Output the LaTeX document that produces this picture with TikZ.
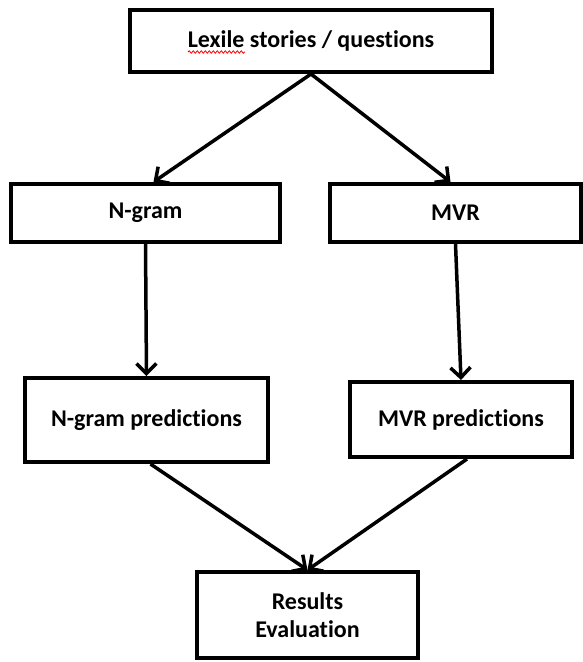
\documentclass[tikz,border=0pt]{standalone}
\usepackage{fontspec}
\setmainfont[RawFeature={-liga;-clig;-calt;-dlig}]{Carlito}
\usetikzlibrary{arrows.meta,calc,decorations.pathmorphing}
\tikzset{
  box/.style={draw=black, fill=white, line width=4pt, align=center,
              inner sep=0pt, font=\fontsize{24}{28}\selectfont\bfseries},
  arrow/.style={-{Straight Barb[length=10pt,width=20pt]}, line width=3.5pt, draw=black},
  squiggle/.style={draw=red, line width=0.8pt, decorate,
                   decoration={snake, amplitude=1.2pt, segment length=4pt}}
}
\begin{document}
\begin{tikzpicture}[x=1pt,y=-1pt]
  \useasboundingbox (0,0) rectangle (582,662);
  % boxes
  \node[box, minimum width=362pt, minimum height=62pt] (lexile) at (311,41) {Lexile stories / questions};
  \node[box, minimum width=269pt, minimum height=58pt] (ngram) at (145.5,213) {N-gram};
  \node[box, minimum width=251pt, minimum height=58pt] (mvr) at (455.5,213) {MVR};
  \node[box, minimum width=243pt, minimum height=84pt] (ngrampred) at (146.5,420) {N-gram predictions};
  \node[box, minimum width=222pt, minimum height=75pt] (mvrpred) at (461,419.5) {MVR predictions};
  \node[box, minimum width=221pt, minimum height=86pt] (results) at (307.5,615) {Results\\Evaluation};
  \draw[squiggle] ($(lexile.center)+(-123,11)$) -- ($(lexile.center)+(-66,11)$);
  % arrows
  \draw[arrow] (lexile.south) -- ([xshift=8pt]ngram.north);
  \draw[arrow] (lexile.south) -- ([xshift=-5pt]mvr.north);
  \draw[arrow] (ngram.south) -- (ngrampred.north);
  \draw[arrow] (mvr.south) -- (mvrpred.north);
  \draw[arrow] ([xshift=4pt]ngrampred.south) -- (results.north);
  \draw[arrow] ([xshift=6pt]mvrpred.south) -- (results.north);
\end{tikzpicture}
\end{document}
